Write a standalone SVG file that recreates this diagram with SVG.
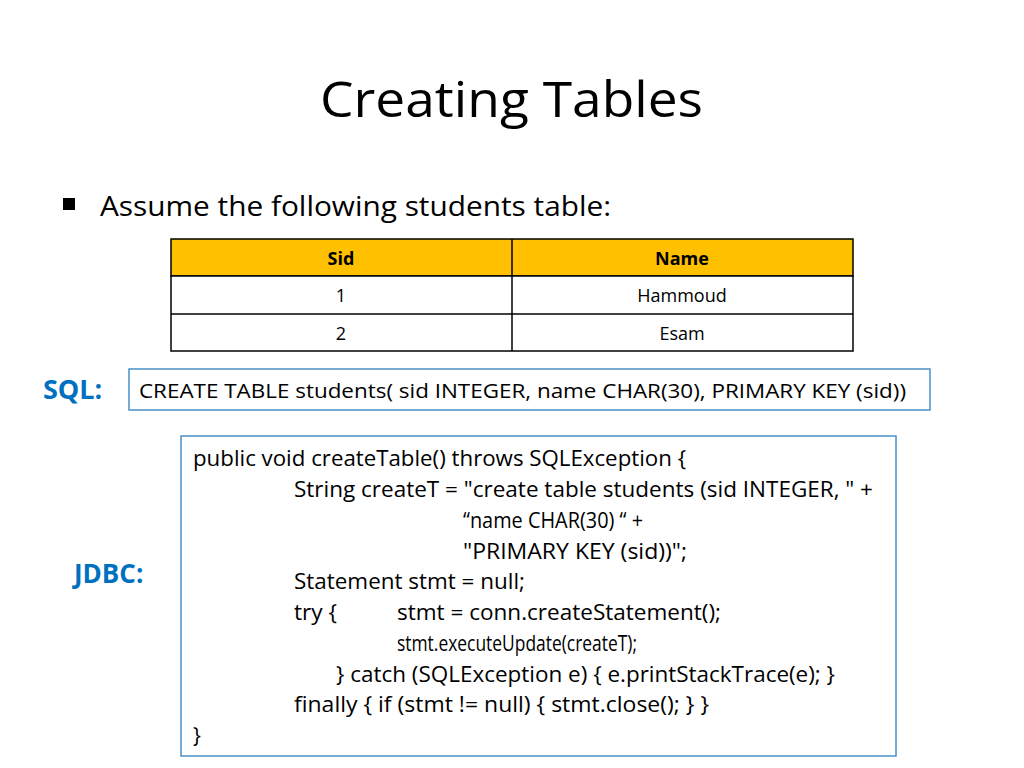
<svg xmlns="http://www.w3.org/2000/svg" width="1024" height="768" viewBox="0 0 1024 768">
<style>
text{font-family:"Open Sans","Liberation Sans",sans-serif;fill:#000}
.c{font-size:21px}
.t{font-size:18px}
.b{font-weight:bold}
.blue{fill:#0070C0;font-weight:bold}
</style>
<rect width="1024" height="768" fill="#fff"/>
<text x="320" y="117" font-size="50" textLength="383" lengthAdjust="spacingAndGlyphs">Creating Tables</text>
<rect x="63" y="198" width="12" height="12" fill="#000"/>
<text x="100" y="216" font-size="27" textLength="511" lengthAdjust="spacingAndGlyphs">Assume the following students table:</text>
<g id="table" stroke="#000" stroke-width="1.5">
<rect x="171" y="239" width="682" height="37" fill="#FFC000"/>
<rect x="171" y="276" width="682" height="75" fill="#fff"/>
<line x1="171" y1="314" x2="853" y2="314"/>
<line x1="512" y1="239" x2="512" y2="351"/>
</g>
<g text-anchor="middle" class="t">
<text x="341" y="265" class="t b">Sid</text><text x="682" y="265" class="t b">Name</text>
<text x="341" y="302" class="t">1</text><text x="682" y="302" class="t">Hammoud</text>
<text x="341" y="340" class="t">2</text><text x="682" y="340" class="t">Esam</text>
</g>
<text x="43" y="399" font-size="27" class="blue">SQL:</text>
<g id="sql"><rect x="129" y="369" width="801" height="41" fill="#fff" stroke="#4A90C8" stroke-width="1.5"/>
<text x="139" y="398" font-size="20" textLength="767" lengthAdjust="spacingAndGlyphs">CREATE TABLE students( sid INTEGER, name CHAR(30), PRIMARY KEY (sid))</text></g>
<text x="74" y="583" font-size="26" class="blue">JDBC:</text>
<g id="jdbc"><rect x="181" y="436" width="715" height="320" fill="#fff" stroke="#4A90C8" stroke-width="1.5"/>
<g class="c">
<text x="193" y="466" textLength="493" lengthAdjust="spacingAndGlyphs">public void createTable() throws SQLException {</text>
<text x="294" y="497" textLength="579" lengthAdjust="spacingAndGlyphs">String createT = "create table students (sid INTEGER, " +</text>
<text x="463" y="528" textLength="180" lengthAdjust="spacingAndGlyphs">“name CHAR(30) “ +</text>
<text x="463" y="559" textLength="224" lengthAdjust="spacingAndGlyphs">"PRIMARY KEY (sid))";</text>
<text x="294" y="589" textLength="231" lengthAdjust="spacingAndGlyphs">Statement stmt = null;</text>
<text x="294" y="620" textLength="43" lengthAdjust="spacingAndGlyphs">try {</text>
<text x="397" y="620" textLength="324" lengthAdjust="spacingAndGlyphs">stmt = conn.createStatement();</text>
<text x="397" y="651" textLength="240" lengthAdjust="spacingAndGlyphs">stmt.executeUpdate(createT);</text>
<text x="336" y="682" textLength="499" lengthAdjust="spacingAndGlyphs">} catch (SQLException e) { e.printStackTrace(e); }</text>
<text x="294" y="712" textLength="415" lengthAdjust="spacingAndGlyphs">finally { if (stmt != null) { stmt.close(); } }</text>
<text x="193" y="743">}</text>
</g></g>
</svg>
